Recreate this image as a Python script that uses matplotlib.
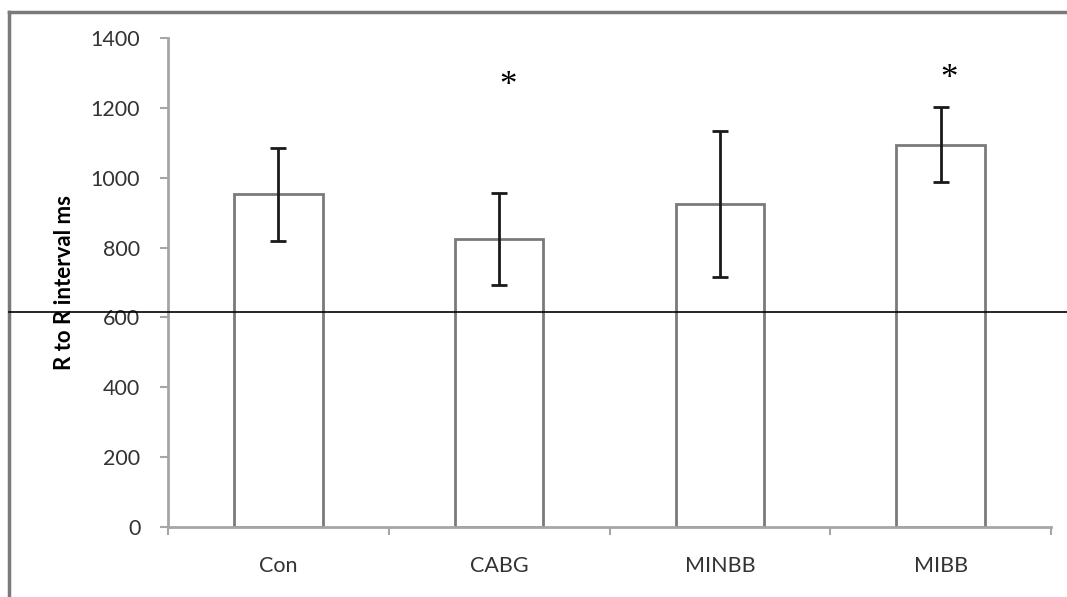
import matplotlib
matplotlib.use("Agg")
import matplotlib.pyplot as plt
from matplotlib.lines import Line2D
import numpy as np

groups = ["Con", "CABG", "MINBB", "MIBB"]
means = [952, 824, 925, 1095]
errors = [133, 132, 208, 108]
star_groups = ["CABG", "MIBB"]
star_heights = [1260, 1280]
yticks = [0, 200, 400, 600, 800, 1000, 1200, 1400]

plt.rcParams["font.family"] = ["Lato", "DejaVu Sans"]

fig = plt.figure(figsize=(10.67, 5.97), dpi=100)
ax = fig.add_axes([0.1575, 0.1173, 0.8275, 0.819])

x = np.arange(len(groups))
ax.bar(x, means, width=0.4, color="white", edgecolor="#7a7a7a", linewidth=2, zorder=2)
ax.errorbar(x, means, yerr=errors, fmt="none", ecolor="#1a1a1a",
            elinewidth=2, capsize=6, capthick=2, zorder=3)

for g, h in zip(star_groups, star_heights):
    ax.text(groups.index(g) + 0.04, h, "*", ha="center", va="center",
            fontsize=25, family="Liberation Serif", color="black")

ax.set_xlim(-0.5, len(groups) - 0.5)
ax.set_ylim(0, 1400)
ax.set_yticks(yticks)
ax.set_xticks(x)
ax.set_xticklabels(groups)
ax.set_xticks(np.arange(len(groups) + 1) - 0.5, minor=True)
ax.tick_params(axis="x", which="major", length=0, pad=21, labelsize=15.5, labelcolor="#333333")
ax.tick_params(axis="x", which="minor", length=6, width=1.5, color="#a6a6a6", direction="out")
ax.tick_params(axis="y", length=6, width=1.5, color="#a6a6a6", labelsize=15.5,
               labelcolor="#333333", pad=14)

for s in ["top", "right"]:
    ax.spines[s].set_visible(False)
for s in ["left", "bottom"]:
    ax.spines[s].set_color("#a6a6a6")
    ax.spines[s].set_linewidth(2)

ax.set_ylabel("R to R interval ms", fontsize=16, fontweight="bold", color="black")
ax.yaxis.set_label_coords(-0.105, 0.5)

# frame of the original image and the stray horizontal rule
fig.add_artist(Line2D([9 / 1067, 9 / 1067], [0, 1 - 12 / 597], color="#7a7a7a", lw=2.5))
fig.add_artist(Line2D([9 / 1067, 1], [1 - 12 / 597, 1 - 12 / 597], color="#7a7a7a", lw=2.5))
fig.add_artist(Line2D([9 / 1067, 1], [1 - 312 / 597, 1 - 312 / 597], color="black", lw=1.2))

fig.savefig("out.png", dpi=100)
